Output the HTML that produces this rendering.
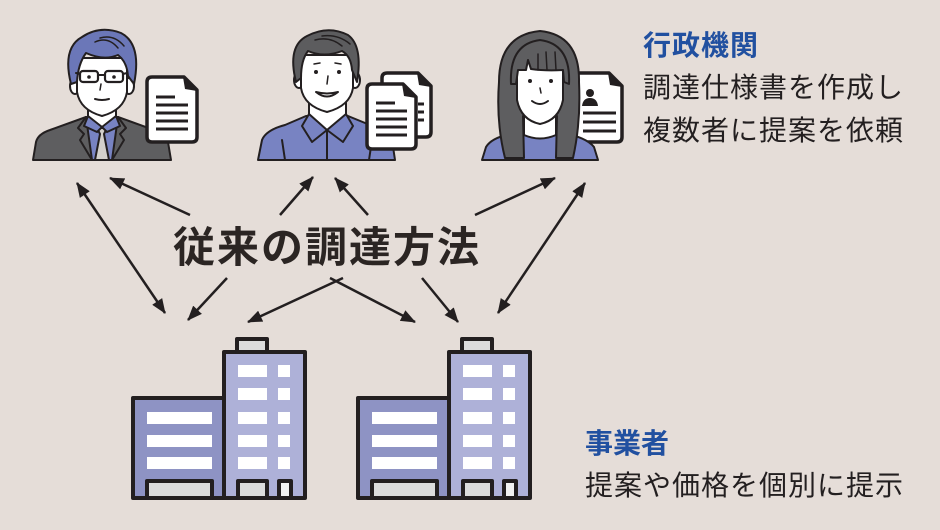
<!DOCTYPE html>
<html><head><meta charset="utf-8">
<style>
html,body{margin:0;padding:0;background:#e5ddd8;}
svg{display:block;}
text{font-family:"Liberation Sans","Noto Sans CJK JP",sans-serif;}
</style></head>
<body>
<svg width="940" height="530" viewBox="0 0 940 530" xmlns="http://www.w3.org/2000/svg">
<defs>
<marker id="ah" markerUnits="userSpaceOnUse" markerWidth="15" markerHeight="12" viewBox="0 0 15 12" refX="14" refY="6" orient="auto-start-reverse">
<path d="M0,0 L15,6 L0,12 Z" fill="#231f20"/>
</marker>
</defs>
<rect width="940" height="530" fill="#e5ddd8"/>

<!-- Person 1 -->
<g stroke="#231f20" stroke-width="2" stroke-linejoin="round" stroke-linecap="round">
 <path d="M33,160 L36,142 Q38,134 50,130 L86,117 L118,117 L154,130 Q166,134 168,142 L171,160 Z" fill="#5e5e60"/>
 <path d="M86,117 L118,117 L112,160 L92,160 Z" fill="#7883c2"/>
 <path d="M97,128 L107,128 L104,134 L109,160 L95,160 L100,134 Z" fill="#d3d0cb"/>
 <path d="M86,117 L78,128 L84,134 L80,140 L92,160" fill="none"/>
 <path d="M118,117 L126,128 L120,134 L124,140 L112,160" fill="none"/>
 <path d="M88,100 L88,120 L102,128 L116,120 L116,100 Z" fill="#fff"/>
 <path d="M88,116 L84,126 L97,132 L102,127 Z" fill="#7883c2"/>
 <path d="M116,116 L120,126 L107,132 L102,127 Z" fill="#7883c2"/>
 <ellipse cx="75" cy="86" rx="5" ry="8" fill="#fff"/>
 <ellipse cx="129" cy="86" rx="5" ry="8" fill="#fff"/>
 <path d="M77,58 L77,92 Q80,110 102,116 Q124,110 127,92 L127,58 Z" fill="#fff"/>
 <path d="M71,84 Q62,48 82,37 Q100,25 121,33 Q142,44 134,84 L128,76 Q127,62 118,55 Q104,61 86,53 Q78,64 77,82 Z" fill="#6b77b8"/>
 <path d="M95,42 Q108,36 118,48 M100,38 Q114,34 124,46" fill="none" stroke-width="1.5"/>
 <rect x="80" y="71" width="18" height="11" rx="3" fill="none" stroke-width="2.2"/>
 <rect x="105" y="71" width="18" height="11" rx="3" fill="none" stroke-width="2.2"/>
 <path d="M98,75 L105,75 M80,74 L76,73 M123,74 L127,73" fill="none"/>
 <circle cx="89" cy="77" r="1.8" fill="#231f20" stroke="none"/>
 <circle cx="114" cy="77" r="1.8" fill="#231f20" stroke="none"/>
 <path d="M101,84 L100,90" fill="none" stroke-width="1.5"/>
 <path d="M95,99 Q102,101 109,99" fill="none"/>
</g>
<!-- Doc 1 -->
<g>
 <path d="M152,77 L184,77 L197,90 L197,137 Q197,142 192,142 L152,142 Q147,142 147,137 L147,82 Q147,77 152,77 Z" fill="#fff" stroke="#231f20" stroke-width="3.5" stroke-linejoin="round"/>
 <path d="M183,77 L197,91 L185,89 Z" fill="#231f20"/>
 <g stroke="#231f20" stroke-width="3">
  <line x1="156" y1="97" x2="175" y2="97"/>
  <line x1="156" y1="105" x2="188" y2="105"/>
  <line x1="156" y1="113" x2="188" y2="113"/>
  <line x1="156" y1="121" x2="188" y2="121"/>
  <line x1="156" y1="129" x2="188" y2="129"/>
 </g>
</g>

<!-- Person 2 -->
<g stroke="#231f20" stroke-width="2" stroke-linejoin="round" stroke-linecap="round">
 <path d="M258,160 L262,140 Q266,130 285,125 L306,116 L348,116 L370,125 Q389,130 392,140 L395,160 Z" fill="#7883c2"/>
 <path d="M309,98 L309,120 L327,130 L346,120 L346,98 Z" fill="#fff"/>
 <path d="M309,114 L302,126 L312,142 L327,130 Z" fill="#7883c2"/>
 <path d="M346,114 L353,126 L343,142 L327,130 Z" fill="#7883c2"/>
 <path d="M327,130 L327,160 M282,140 L285,160 M372,140 L369,160" fill="none"/>
 <ellipse cx="299" cy="80" rx="5" ry="8" fill="#fff"/>
 <ellipse cx="355" cy="80" rx="5" ry="8" fill="#fff"/>
 <path d="M301,55 L301,88 Q304,106 327,112 Q350,106 353,88 L353,55 Z" fill="#fff"/>
 <path d="M296,82 Q287,46 307,36 Q328,25 348,35 Q363,46 357,82 L352,70 Q351,56 342,51 Q324,58 308,51 Q301,60 301,78 Z" fill="#5c5c5e"/>
 <path d="M315,40 Q330,36 342,46 M322,36 Q338,34 350,44" fill="none" stroke-width="1.5"/>
 <circle cx="316" cy="72" r="2" fill="#231f20" stroke="none"/>
 <circle cx="339" cy="72" r="2" fill="#231f20" stroke="none"/>
 <path d="M314,64 L320,63 M335,63 L341,64" fill="none" stroke-width="1.5"/>
 <path d="M328,76 L327,84" fill="none" stroke-width="1.5"/>
 <path d="M316,92 Q327,101 338,92 Q327,95 316,92 Z" fill="#fff"/>
</g>
<!-- Docs 2 -->
<g>
 <path d="M387,73 L418,73 L431,86 L431,132 Q431,137 426,137 L387,137 Q382,137 382,132 L382,78 Q382,73 387,73 Z" fill="#fff" stroke="#231f20" stroke-width="3.5" stroke-linejoin="round"/>
 <path d="M417,73 L431,87 L419,85 Z" fill="#231f20"/>
 <g stroke="#231f20" stroke-width="3">
  <line x1="418" y1="104" x2="424" y2="104"/>
  <line x1="418" y1="112" x2="424" y2="112"/>
  <line x1="418" y1="120" x2="424" y2="120"/>
 </g>
 <path d="M372,84 L403,84 L416,97 L416,144 Q416,149 411,149 L372,149 Q367,149 367,144 L367,89 Q367,84 372,84 Z" fill="#fff" stroke="#231f20" stroke-width="3.5" stroke-linejoin="round"/>
 <path d="M402,84 L416,98 L404,96 Z" fill="#231f20"/>
 <g stroke="#231f20" stroke-width="3">
  <line x1="376" y1="103" x2="395" y2="103"/>
  <line x1="376" y1="111" x2="407" y2="111"/>
  <line x1="376" y1="119" x2="407" y2="119"/>
  <line x1="376" y1="127" x2="407" y2="127"/>
  <line x1="376" y1="135" x2="407" y2="135"/>
 </g>
</g>

<!-- Doc 3 (behind woman) -->
<g>
 <path d="M578,73 L609,73 L622,86 L622,137 Q622,142 617,142 L578,142 Q573,142 573,137 L573,78 Q573,73 578,73 Z" fill="#fff" stroke="#231f20" stroke-width="3.5" stroke-linejoin="round"/>
 <path d="M608,73 L622,87 L610,85 Z" fill="#231f20"/>
 <circle cx="590" cy="93" r="4" fill="#231f20"/>
 <path d="M582,106 Q583,98 590,98 Q597,98 598,106 Z" fill="#231f20"/>
 <g stroke="#231f20" stroke-width="3">
  <line x1="583" y1="113" x2="616" y2="113"/>
  <line x1="583" y1="122" x2="616" y2="122"/>
  <line x1="583" y1="131" x2="616" y2="131"/>
 </g>
</g>
<!-- Person 3 -->
<g stroke="#231f20" stroke-width="2" stroke-linejoin="round" stroke-linecap="round">
 <path d="M482,160 L486,147 Q492,137 515,133 L562,133 Q586,137 594,147 L598,160 Z" fill="#7883c2"/>
 <path d="M524,110 L524,135 Q540,142 556,135 L556,110 Z" fill="#fff"/>
 <path d="M505,158 Q496,122 499,82 Q499,35 540,31 Q580,35 579,82 Q581,122 573,158 L556,158 L557,116 L523,116 L524,158 Z" fill="#5e5e60"/>
 <path d="M517,62 L517,100 Q521,120 540,124 Q559,120 563,100 L563,62 Z" fill="#fff"/>
 <path d="M511,84 Q509,44 540,40 Q571,44 569,84 L564,82 L563,70 Q545,71 531,69 L528,60 L526,70 L518,70 L516,84 Z" fill="#5e5e60"/>
 <path d="M546,52 L547,70 M555,52 L556,70 M538,54 L538,70" fill="none" stroke-width="1.5"/>
 <circle cx="530" cy="81" r="2" fill="#231f20" stroke="none"/>
 <circle cx="551" cy="81" r="2" fill="#231f20" stroke="none"/>
 <path d="M540,88 L541,93" fill="none" stroke-width="1.5"/>
 <path d="M532,101 Q540,107 548,101" fill="none"/>
</g>

<!-- Arrows -->
<g stroke="#231f20" stroke-width="2.5" fill="none">
 <line x1="77" y1="183" x2="165" y2="313" marker-start="url(#ah)" marker-end="url(#ah)"/>
 <line x1="190" y1="215" x2="110" y2="178" marker-end="url(#ah)"/>
 <line x1="280" y1="215" x2="313" y2="177" marker-end="url(#ah)"/>
 <line x1="227" y1="278" x2="188" y2="320" marker-end="url(#ah)"/>
 <line x1="343" y1="278" x2="248" y2="322" marker-end="url(#ah)"/>
 <line x1="330" y1="278" x2="415" y2="322" marker-end="url(#ah)"/>
 <line x1="368" y1="215" x2="335" y2="178" marker-end="url(#ah)"/>
 <line x1="475" y1="215" x2="555" y2="178" marker-end="url(#ah)"/>
 <line x1="585" y1="183" x2="498" y2="313" marker-start="url(#ah)" marker-end="url(#ah)"/>
 <line x1="422" y1="278" x2="458" y2="322" marker-end="url(#ah)"/>
</g>

<!-- Buildings -->
<g id="b1" stroke="#231f20" stroke-width="4" stroke-linejoin="round">
 <rect x="133" y="398" width="91" height="100" fill="#8e93c4"/>
 <rect x="224" y="352" width="81" height="146" fill="#aeb1d8"/>
 <rect x="237" y="339" width="30" height="13" fill="#dcdcdc"/>
 <g stroke="none" fill="#fff">
  <rect x="147" y="412" width="65" height="12"/>
  <rect x="147" y="435" width="65" height="12"/>
  <rect x="147" y="457" width="65" height="12"/>
  <rect x="238" y="365" width="29" height="12"/><rect x="278" y="365" width="12" height="12"/>
  <rect x="238" y="388" width="29" height="12"/><rect x="278" y="388" width="12" height="12"/>
  <rect x="238" y="412" width="29" height="12"/><rect x="278" y="412" width="12" height="12"/>
  <rect x="238" y="435" width="29" height="12"/><rect x="278" y="435" width="12" height="12"/>
  <rect x="238" y="457" width="29" height="12"/><rect x="278" y="457" width="12" height="12"/>
 </g>
 <rect x="147" y="481" width="65" height="17" fill="#dcdcdc"/>
 <rect x="238" y="481" width="29" height="17" fill="#dcdcdc"/>
 <rect x="279" y="481" width="12" height="17" fill="#f2f2f2"/>
</g>
<use href="#b1" transform="translate(225,0)"/>

<!-- Text -->
<text x="173" y="262" font-size="42" font-weight="bold" letter-spacing="2" fill="#2b2523">従来の調達方法</text>
<text x="643" y="55" font-size="28" font-weight="bold" letter-spacing="1" fill="#2150a0">行政機関</text>
<text x="643" y="97" font-size="28" letter-spacing="1" fill="#231f20">調達仕様書を作成し</text>
<text x="643" y="140" font-size="28" letter-spacing="1" fill="#231f20">複数者に提案を依頼</text>
<text x="585" y="453" font-size="28" font-weight="bold" letter-spacing="0" fill="#2150a0">事業者</text>
<text x="585" y="495" font-size="28" letter-spacing="1" fill="#231f20">提案や価格を個別に提示</text>
</svg>
</body></html>
